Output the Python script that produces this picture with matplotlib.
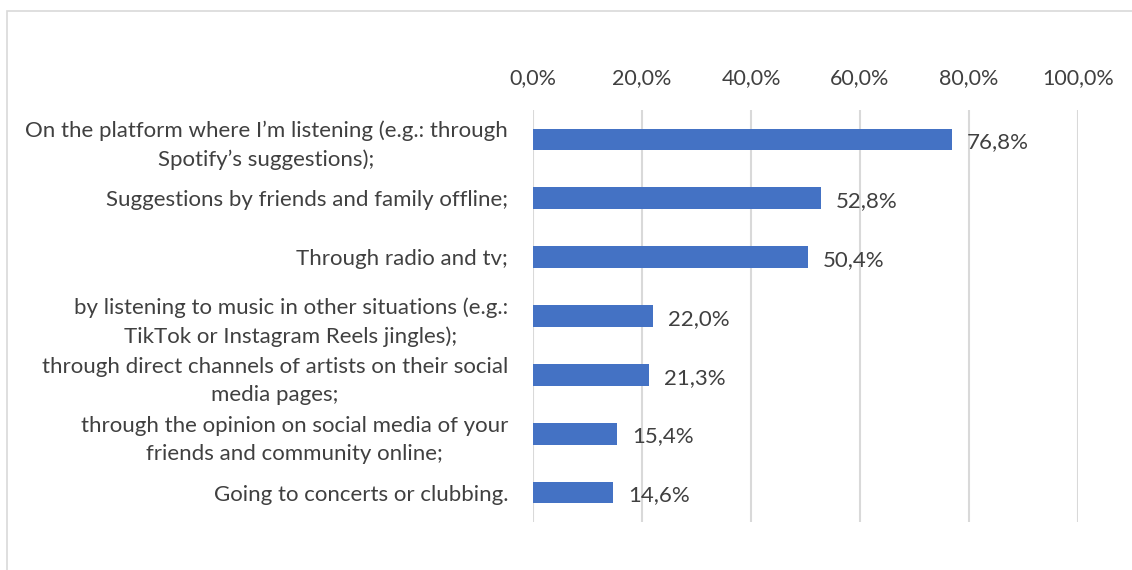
import matplotlib
matplotlib.use("Agg")
import matplotlib.pyplot as plt
from matplotlib.patches import Rectangle
from matplotlib.ticker import FuncFormatter

categories = [
    "On the platform where I\u2019m listening (e.g.: through\nSpotify\u2019s suggestions);",
    "Suggestions by friends and family offline;",
    "Through radio and tv;",
    "by listening to music in other situations (e.g.:\nTikTok or Instagram Reels jingles);",
    "through direct channels of artists on their social\nmedia pages;",
    "through the opinion on social media of your\nfriends and community online;",
    "Going to concerts or clubbing.",
]
values = [76.8, 52.8, 50.4, 22.0, 21.3, 15.4, 14.6]
x_ticks = [0, 20, 40, 60, 80, 100]

TEXT = "#404040"
GRID = "#d9d9d9"
BAR = "#4472C4"
FONT = ["Lato", "DejaVu Sans"]

W, H, DPI = 1132, 570, 100
fig = plt.figure(figsize=(W / DPI, H / DPI), dpi=DPI)
fig.patch.set_facecolor("white")

# outer chart border
fig.patches.append(Rectangle((7 / W, -0.05), 1.2, 1 - 11 / H + 0.05,
                             transform=fig.transFigure, fill=False,
                             edgecolor=GRID, linewidth=1.2))

ax = fig.add_axes([533 / W, 1 - 522 / H, (1078 - 533) / W, (522 - 110) / H])
pos = list(range(len(categories)))
ax.barh(pos, values, height=0.37, color=BAR, zorder=3)
ax.set_ylim(len(categories) - 0.5, -0.5)
ax.set_xlim(0, 100)

ax.set_xticks(x_ticks)
ax.xaxis.set_major_formatter(FuncFormatter(lambda v, p: f"{v:.1f}%".replace(".", ",")))
ax.xaxis.tick_top()
ax.tick_params(axis="x", length=0, pad=16, labelsize=15.5, labelcolor=TEXT)
ax.grid(axis="x", color=GRID, linewidth=1.5, zorder=0)

ax.set_yticks(pos)
ax.set_yticklabels(categories)
ax.tick_params(axis="y", length=0, pad=18, labelsize=16, labelcolor=TEXT)
for lab in ax.get_yticklabels():
    lab.set_multialignment("center")
    lab.set_family(FONT)
    lab.set_linespacing(1.5)
for lab in ax.get_xticklabels():
    lab.set_family(FONT)

for s in ax.spines.values():
    s.set_visible(False)

for p, v in zip(pos, values):
    ax.annotate(f"{v:.1f}%".replace(".", ","), (v, p), xytext=(11, -2),
                textcoords="offset points", va="center", ha="left",
                fontsize=16, color=TEXT, family=FONT)

fig.savefig("out.png", dpi=DPI)
